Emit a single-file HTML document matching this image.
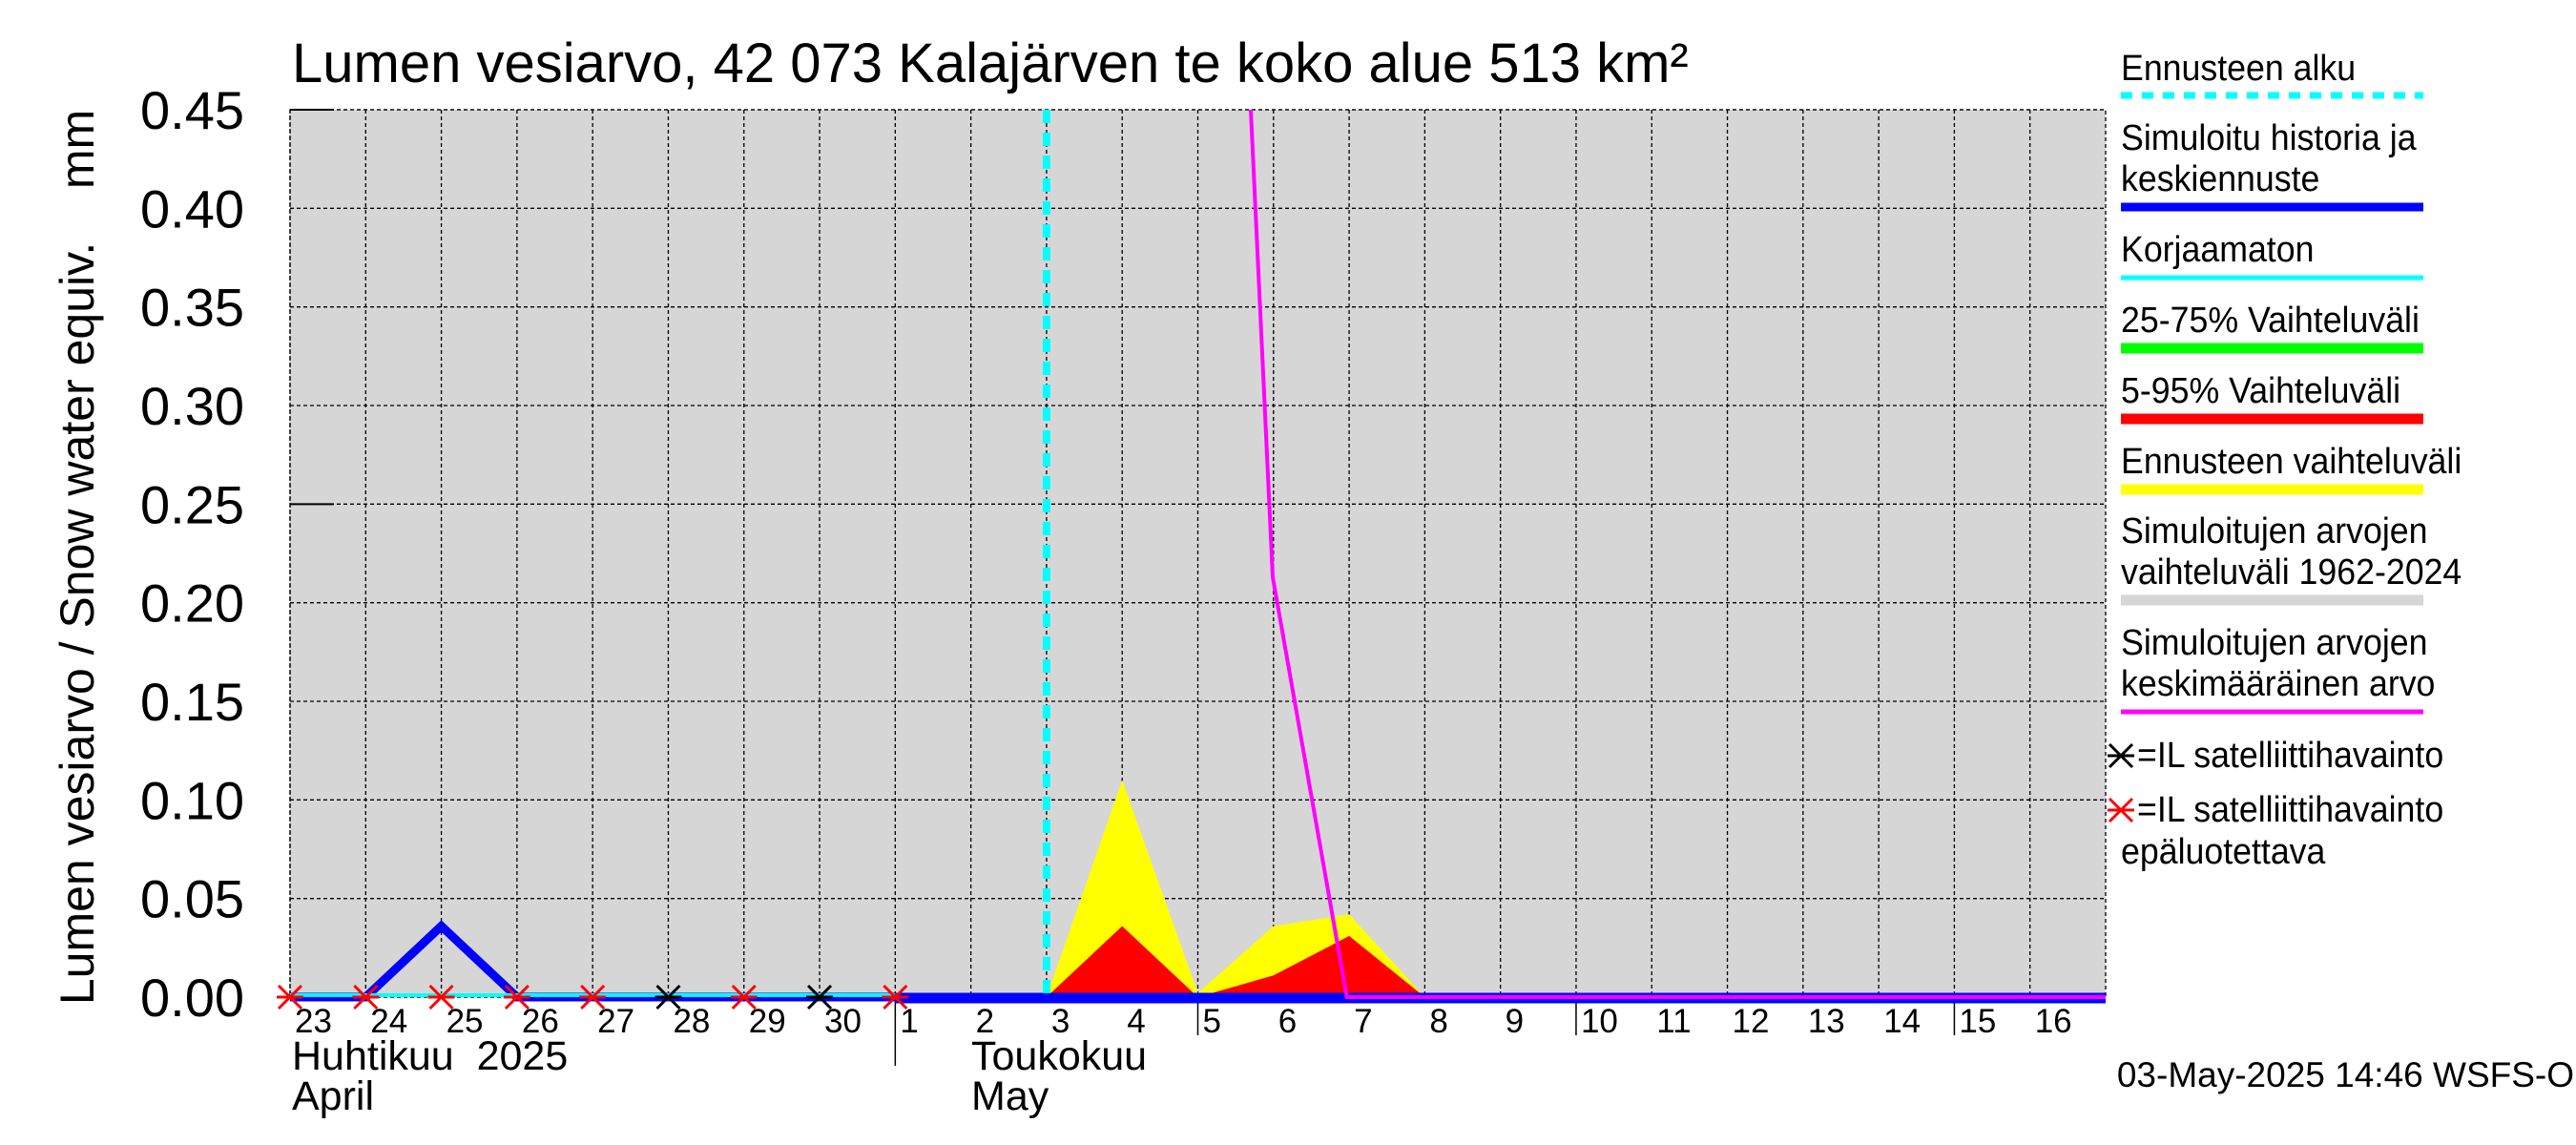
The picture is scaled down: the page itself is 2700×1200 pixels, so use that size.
<!DOCTYPE html>
<html><head><meta charset="utf-8"><style>html,body{margin:0;padding:0;background:#fff}svg{display:block}text{font-family:"Liberation Sans",sans-serif}</style></head>
<body>
<svg id="chart" width="2700" height="1200" xmlns="http://www.w3.org/2000/svg">
<rect width="2700" height="1200" fill="#fff"/>
<text x="306" y="86" font-size="58">Lumen vesiarvo, 42 073 Kalajärven te koko alue 513 km²</text>
<text transform="translate(98,584) rotate(-90)" text-anchor="middle" font-size="50">Lumen vesiarvo / Snow water equiv.&#160;&#160;&#160; mm</text>
<g id="plot"></g>
<g id="legend"></g>
<text x="2698" y="1139" text-anchor="end" font-size="37">03-May-2025 14:46 WSFS-O</text>
</svg>
<script>
const dayLabels=["23","24","25","26","27","28","29","30","1","2","3","4","5","6","7","8","9","10","11","12","13","14","15","16"];
const yTicks=[0,0.05,0.10,0.15,0.20,0.25,0.30,0.35,0.40,0.45];
const blueDays=[0,1,2,3,24];
const blueVals=[0,0,0.036,0,0];
const yellowDays=[10,11,12,13,14,15];
const yellowVals=[0,0.11,0.002,0.036,0.042,0];
const redDays=[10,11,12,13,14,15];
const redVals=[0,0.036,0,0.011,0.031,0];
const magDays=[12.7,12.99,13.97,24];
const magVals=[0.45,0.213,0,0];
const redObsDays=[0,1,2,3,4,6,8];
const blackObsDays=[5,7];
const forecastDay=10;

const NS="http://www.w3.org/2000/svg";
const X0=304,X1=2207,Y0=1045,Y1=115,NDAYS=24,YMAX=0.45;
const xs=d=>X0+(X1-X0)*d/NDAYS;
const ys=v=>Y0-(Y0-Y1)*v/YMAX;
const plot=document.getElementById('plot');
function mk(tag,attrs,parent){const e=document.createElementNS(NS,tag);for(const k in attrs)e.setAttribute(k,attrs[k]);(parent||plot).appendChild(e);return e;}

let bg=mk('rect',{x:X0,y:Y1,width:X1-X0,height:Y0-Y1,fill:'#d6d6d6'});



for(let i=0;i<yTicks.length;i++){const v=yTicks[i];const y=ys(v);
 let g=mk('line',{x1:X0,x2:X1,y1:y,y2:y,stroke:'#000','stroke-width':1.3,'stroke-dasharray':'4,3'});
 
 
 if(i===5||i===9)mk('line',{x1:X0,x2:X0+46,y1:y,y2:y,stroke:'#000','stroke-width':2});
 let t=mk('text',{x:256,y:y+20,'text-anchor':'end','font-size':56});t.textContent=v.toFixed(2);
 
 
}
for(let d=0;d<NDAYS;d++){const x=xs(d);
 let g=mk('line',{x1:x,x2:x,y1:Y1,y2:Y0,stroke:'#000','stroke-width':1.3,'stroke-dasharray':'4,3'});
 
 
 let t=mk('text',{x:x+5,y:1082,'font-size':35});t.textContent=dayLabels[d];
 
 
}
mk('line',{x1:xs(8),x2:xs(8),y1:Y0,y2:1117,stroke:'#000','stroke-width':1.5});
[12,17,22].forEach(d=>mk('line',{x1:xs(d),x2:xs(d),y1:Y0,y2:1085,stroke:'#000','stroke-width':1.5}));
mk('rect',{x:X0,y:Y1,width:X1-X0,height:Y0-Y1,fill:'none',stroke:'#000','stroke-width':1.3,'stroke-dasharray':'4,3'});

function area(days,vals,color,name){let p=days.map((d,i)=>xs(d)+','+ys(vals[i])).join(' ');
 p+=' '+xs(days[days.length-1])+','+ys(0)+' '+xs(days[0])+','+ys(0);
 let e=mk('polygon',{points:p,fill:color});
 
 }
area(yellowDays,yellowVals,'#ffff00','forecast-range-area');
area(redDays,redVals,'#ff0000','range-5-95-area');

let bl=mk('polyline',{points:blueDays.map((d,i)=>xs(d)+','+ys(blueVals[i])).join(' '),fill:'none',stroke:'#0000ff','stroke-width':9,'stroke-linejoin':'miter'});


let cy=mk('line',{x1:xs(0),x2:xs(8),y1:ys(0)-2,y2:ys(0)-2,stroke:'#00ffff','stroke-width':4});


let bl2=mk('line',{x1:xs(8),x2:X1,y1:ys(0)+2,y2:ys(0)+2,stroke:'#0000ff','stroke-width':9});


let mg=mk('polyline',{points:magDays.map((d,i)=>xs(d)+','+ys(magVals[i])).join(' '),fill:'none',stroke:'#ff00ff','stroke-width':4});


let fc=mk('line',{x1:xs(forecastDay),x2:xs(forecastDay),y1:Y1,y2:Y0,stroke:'#00ffff','stroke-width':8,'stroke-dasharray':'14,10'});



function star(x,y,c,parent){const r=12;const g=mk('g',{},parent);
 mk('line',{x1:x-r,x2:x+r,y1:y-r,y2:y+r,stroke:c,'stroke-width':3},g);
 mk('line',{x1:x-r,x2:x+r,y1:y+r,y2:y-r,stroke:c,'stroke-width':3},g);
 mk('line',{x1:x-r-2,x2:x+r+2,y1:y,y2:y,stroke:c,'stroke-width':3},g);return g;}
redObsDays.forEach(d=>{const s=star(xs(d),ys(0),'#ff0000');
 
 });
blackObsDays.forEach(d=>{const s=star(xs(d),ys(0),'#000');
 
 });

let m1=mk('text',{x:306,y:1121,'font-size':43});m1.textContent='Huhtikuu\u00a0 2025';


let m2=mk('text',{x:306,y:1163,'font-size':43});m2.textContent='April';


let m3=mk('text',{x:1018,y:1121,'font-size':43});m3.textContent='Toukokuu';


let m4=mk('text',{x:1018,y:1163,'font-size':43});m4.textContent='May';



const lg=document.getElementById('legend');
const LX=2223,LX2=2540;
function ltext(s,y,x){const t=mk('text',{x:0,y:y,'font-size':38,transform:'translate('+(x||LX)+',0) scale(0.94,1)'},lg);t.textContent=s;
 
 }
function lline(y,c,w,dash){const e=mk('line',{x1:LX,x2:LX2,y1:y,y2:y,stroke:c,'stroke-width':w},lg);if(dash)e.setAttribute('stroke-dasharray',dash);
 
 }
ltext('Ennusteen alku',84);lline(100,'#00ffff',7,'12,10');
ltext('Simuloitu historia ja',157);ltext('keskiennuste',200);lline(217,'#0000ff',9);
ltext('Korjaamaton',274);lline(291,'#00ffff',5);
ltext('25-75% Vaihteluväli',348);lline(365,'#00ff00',11);
ltext('5-95% Vaihteluväli',422);lline(439,'#ff0000',11);
ltext('Ennusteen vaihteluväli',496);lline(513,'#ffff00',11);
ltext('Simuloitujen arvojen',569);ltext('vaihteluväli 1962-2024',612);lline(629,'#d6d6d6',11);
ltext('Simuloitujen arvojen',686);ltext('keskimääräinen arvo',729);lline(746,'#ff00ff',5);
star(2223,792,'#000',lg);ltext('=IL satelliittihavainto',804,2240);
star(2223,849,'#ff0000',lg);ltext('=IL satelliittihavainto',861,2240);ltext('epäluotettava',905);
</script>
</body></html>
